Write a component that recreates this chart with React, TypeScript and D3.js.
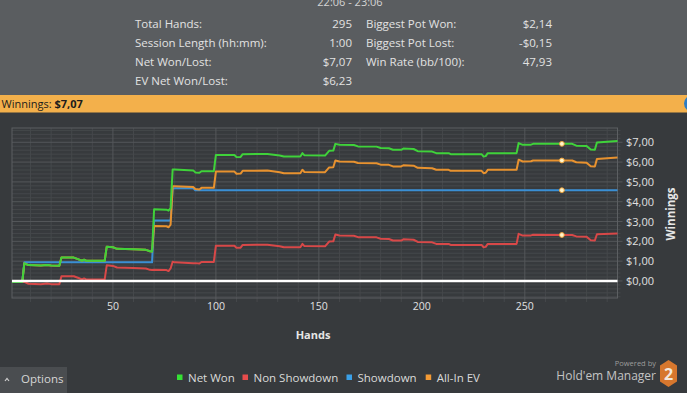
import React from 'react';
import * as d3 from 'd3';

// ---------- data ----------
const hands = [1, 6, 7, 9, 15, 18, 20, 24, 25, 31, 33, 35, 36, 37, 46, 47, 50, 52, 60, 66, 68, 69, 70, 76, 77, 78, 79, 80, 89, 90, 92, 93, 99, 100, 109, 110, 112, 113, 125, 131, 133, 141, 142, 143, 153, 155, 157, 158, 160, 167, 169, 178, 180, 184, 186, 190, 191, 196, 198, 205, 207, 213, 214, 229, 230, 231, 232, 246, 247, 249, 253, 254, 268, 273, 275, 280, 282, 284, 285, 295];

const netWon = [-0.05, -0.05, 0.89, 0.80, 0.78, 0.81, 0.78, 0.77, 1.18, 1.18, 1.10, 1.02, 1.07, 1.02, 1.02, 1.73, 1.70, 1.62, 1.60, 1.57, 1.50, 1.49, 3.62, 3.60, 3.55, 3.68, 5.62, 5.62, 5.58, 5.48, 5.46, 5.54, 5.54, 6.36, 6.36, 6.25, 6.26, 6.40, 6.41, 6.33, 6.28, 6.28, 6.45, 6.34, 6.33, 6.57, 6.58, 6.92, 6.87, 6.86, 6.79, 6.78, 6.71, 6.70, 6.62, 6.62, 6.68, 6.66, 6.55, 6.53, 6.45, 6.45, 6.40, 6.40, 6.28, 6.30, 6.45, 6.45, 6.96, 6.87, 6.88, 6.92, 6.92, 6.92, 6.83, 6.81, 6.63, 6.62, 6.99, 7.07];

const nonShowdown = [-0.05, -0.05, -0.05, -0.14, -0.16, -0.13, -0.16, -0.16, 0.24, 0.24, 0.16, 0.08, 0.13, 0.08, 0.08, 0.79, 0.76, 0.68, 0.66, 0.63, 0.56, 0.55, 0.57, 0.55, 0.50, 0.63, 0.97, 0.94, 0.90, 0.90, 0.88, 0.96, 0.96, 1.78, 1.78, 1.67, 1.68, 1.82, 1.83, 1.75, 1.70, 1.70, 1.87, 1.76, 1.75, 1.99, 2.00, 2.34, 2.29, 2.28, 2.21, 2.20, 2.13, 2.12, 2.04, 2.04, 2.10, 2.08, 1.97, 1.95, 1.87, 1.87, 1.82, 1.82, 1.70, 1.72, 1.87, 1.87, 2.38, 2.29, 2.30, 2.33, 2.32, 2.32, 2.25, 2.23, 2.05, 2.04, 2.36, 2.40];

const showdown = [0, 0, 0.94, 0.94, 0.94, 0.94, 0.94, 0.94, 0.94, 0.94, 0.94, 0.94, 0.94, 0.94, 0.94, 0.94, 0.94, 0.94, 0.94, 0.94, 0.94, 0.94, 3.05, 3.05, 3.05, 3.05, 4.65, 4.68, 4.68, 4.58, 4.58, 4.58, 4.58, 4.58, 4.58, 4.58, 4.58, 4.58, 4.58, 4.58, 4.58, 4.58, 4.58, 4.58, 4.58, 4.58, 4.58, 4.58, 4.58, 4.58, 4.58, 4.58, 4.58, 4.58, 4.58, 4.58, 4.58, 4.58, 4.58, 4.58, 4.58, 4.58, 4.58, 4.58, 4.58, 4.58, 4.58, 4.58, 4.58, 4.58, 4.58, 4.58, 4.58, 4.58, 4.58, 4.58, 4.58, 4.58, 4.58, 4.58];

const allInEV = [-0.05, -0.05, 0.89, 0.80, 0.78, 0.81, 0.78, 0.77, 1.18, 1.18, 1.10, 1.02, 1.07, 1.02, 1.02, 1.73, 1.70, 1.62, 1.60, 1.57, 1.50, 1.49, 2.78, 2.76, 2.71, 2.84, 4.78, 4.78, 4.74, 4.64, 4.62, 4.70, 4.70, 5.52, 5.52, 5.41, 5.42, 5.56, 5.57, 5.49, 5.44, 5.44, 5.61, 5.50, 5.49, 5.73, 5.74, 6.08, 6.03, 6.02, 5.95, 5.94, 5.87, 5.86, 5.78, 5.78, 5.84, 5.82, 5.71, 5.69, 5.61, 5.61, 5.56, 5.56, 5.44, 5.46, 5.61, 5.61, 6.12, 6.03, 6.04, 6.08, 6.08, 6.08, 5.99, 5.97, 5.79, 5.78, 6.15, 6.23];

const seriesNames = ['Net Won', 'Non Showdown', 'Showdown', 'All-In EV'];
const seriesColors = ['#3fd23a', '#d84848', '#3a8fd4', '#e8922f'];
const legendColors = ['#35e135', '#e84c4c', '#3aa0e8', '#f39a35'];
const hoverHand = 268;

const xMajorTicks = [50, 100, 150, 200, 250];
const yMajorTicks = [0, 1, 2, 3, 4, 5, 6, 7];
const yTickLabels = ['$0,00', '$1,00', '$2,00', '$3,00', '$4,00', '$5,00', '$6,00', '$7,00'];

const sessionTitle = '22:06 - 23:06';
const statsLeftLabels = ['Total Hands:', 'Session Length (hh:mm):', 'Net Won/Lost:', 'EV Net Won/Lost:'];
const statsLeftValues = ['295', '1:00', '$7,07', '$6,23'];
const statsRightLabels = ['Biggest Pot Won:', 'Biggest Pot Lost:', 'Win Rate (bb/100):'];
const statsRightValues = ['$2,14', '-$0,15', '47,93'];

const FONT = "'Open Sans', 'Noto Sans', sans-serif";

export default function App() {
  const W = 687;
  const H = 393;
  const left = 12, right = 617.5, top = 128, bottom = 298;

  const x = d3.scaleLinear().domain([1, 295]).range([left, right]);
  const y = d3.scaleLinear().domain([-0.86, 7.72]).range([bottom, top]);

  const seriesData = [netWon, nonShowdown, showdown, allInEV];
  const drawOrder = [1, 2, 3, 0];

  const line = (vals: number[]) =>
    d3.line<number>().x((_, i) => x(hands[i])).y((d) => y(d))(vals) || '';

  const minorY = d3.range(-4, 39).map((i) => i / 5).filter((v) => !Number.isInteger(v));
  const minorX = d3.range(10, 295, 10).filter((v) => v % 50 !== 0);
  const hoverIdx = hands.indexOf(hoverHand);

  const legendX = [177, 242.5, 346.5, 425.7];

  return (
    <div style={{ position: 'fixed', left: 0, top: 0, width: W, height: H, overflow: 'hidden' }}>
      <svg width={W} height={H} style={{ display: 'block', fontFamily: FONT }}>
        {/* backgrounds */}
        <rect x={0} y={0} width={W} height={H} fill="#373a3d" />
        <rect x={0} y={0} width={W} height={95} fill="#5a5d60" />
        <rect x={0} y={95} width={W} height={17.5} fill="#f3b04b" />
        <circle cx={692} cy={103.5} r={8} fill="#2c7cc4" />

        {/* header */}
        <text x={350} y={5.5} textAnchor="middle" fontSize={11} fill="#d4d4d4">{sessionTitle}</text>
        {statsLeftLabels.map((t, i) => (
          <text key={'ll' + i} x={135} y={27.5 + i * 19.1} fontSize={11.5} fill="#e2e2e2">{t}</text>
        ))}
        {statsLeftValues.map((t, i) => (
          <text key={'lv' + i} x={352} y={27.5 + i * 19.1} fontSize={11.5} fill="#e2e2e2" textAnchor="end">{t}</text>
        ))}
        {statsRightLabels.map((t, i) => (
          <text key={'rl' + i} x={366} y={27.5 + i * 19.1} fontSize={11.5} fill="#e2e2e2">{t}</text>
        ))}
        {statsRightValues.map((t, i) => (
          <text key={'rv' + i} x={552} y={27.5 + i * 19.1} fontSize={11.5} fill="#e2e2e2" textAnchor="end">{t}</text>
        ))}
        <text x={1.5} y={107.5} fontSize={11} fill="#1c1c1c">
          Winnings: <tspan fontWeight="bold">$7,07</tspan>
        </text>

        {/* grid */}
        {minorY.map((v) => (
          <line key={'my' + v} x1={left} x2={right + 3} y1={y(v)} y2={y(v)} stroke="#45484b" strokeWidth={1} />
        ))}
        {minorX.map((v) => (
          <line key={'mx' + v} x1={x(v)} x2={x(v)} y1={top} y2={bottom + 4} stroke="#45484b" strokeWidth={1} />
        ))}
        {yMajorTicks.map((v) => (
          <line key={'My' + v} x1={left} x2={right + 5} y1={y(v)} y2={y(v)} stroke="#54575a" strokeWidth={1} />
        ))}
        {xMajorTicks.map((v) => (
          <line key={'Mx' + v} x1={x(v)} x2={x(v)} y1={top} y2={bottom + 5} stroke="#54575a" strokeWidth={1} />
        ))}
        <rect x={left} y={top} width={right - left} height={bottom - top} fill="none" stroke="#5c5f62" strokeWidth={1} />

        {/* series */}
        {drawOrder.map((si) => (
          <path key={'s' + si} d={line(seriesData[si])} fill="none" stroke={seriesColors[si]} strokeWidth={2} strokeLinejoin="round" />
        ))}
        {/* zero line */}
        <line x1={left} x2={right} y1={y(0)} y2={y(0)} stroke="#ffffff" strokeWidth={2.5} />

        {/* hover markers */}
        {seriesData.map((s, si) => (
          <circle key={'h' + si} cx={x(hands[hoverIdx])} cy={y(s[hoverIdx])} r={2.4} fill="#fff6cf" stroke="#efa43a" strokeWidth={1} />
        ))}

        {/* axes labels */}
        {yMajorTicks.map((v, i) => (
          <text key={'yl' + v} x={626} y={y(v) + 4} fontSize={11} fill="#e0e0e0">{yTickLabels[i]}</text>
        ))}
        {xMajorTicks.map((v) => (
          <text key={'xl' + v} x={x(v)} y={310} fontSize={10.5} fill="#e0e0e0" textAnchor="middle">{v}</text>
        ))}
        <text x={313} y={339} fontSize={11} fontWeight="bold" fill="#e6e6e6" textAnchor="middle">Hands</text>
        <text transform={`translate(675,214) rotate(-90)`} fontSize={11.5} fontWeight="bold" fill="#e6e6e6" textAnchor="middle">Winnings</text>

        {/* legend */}
        {seriesNames.map((n, i) => (
          <g key={'lg' + i}>
            <rect x={legendX[i]} y={374.5} width={5.5} height={5.5} fill={legendColors[i]} />
            <text x={legendX[i] + 11} y={381.5} fontSize={11.5} fill="#dadada">{n}</text>
          </g>
        ))}

        {/* options button */}
        <rect x={0} y={367} width={67} height={26} fill="#4a4d50" />
        <polyline points="5,381 7,378.5 9,381" fill="none" stroke="#d0d0d0" strokeWidth={1.2} />
        <text x={21} y={383} fontSize={11.5} fill="#d6d6d6">Options</text>

        {/* branding */}
        <text x={656} y={366} fontSize={7.5} fill="#9c9c9c" textAnchor="end">Powered by</text>
        <text x={656} y={380} fontSize={12} fill="#c4c4c4" textAnchor="end">Hold'em Manager</text>
        <polygon points="668.5,360 677,365.5 677,381.5 668.5,387 660,381.5 660,365.5" fill="#d7772e" />
        <text x={668.5} y={380} fontSize={16} fontWeight="bold" fill="#f4e8dc" textAnchor="middle">2</text>
      </svg>
    </div>
  );
}
